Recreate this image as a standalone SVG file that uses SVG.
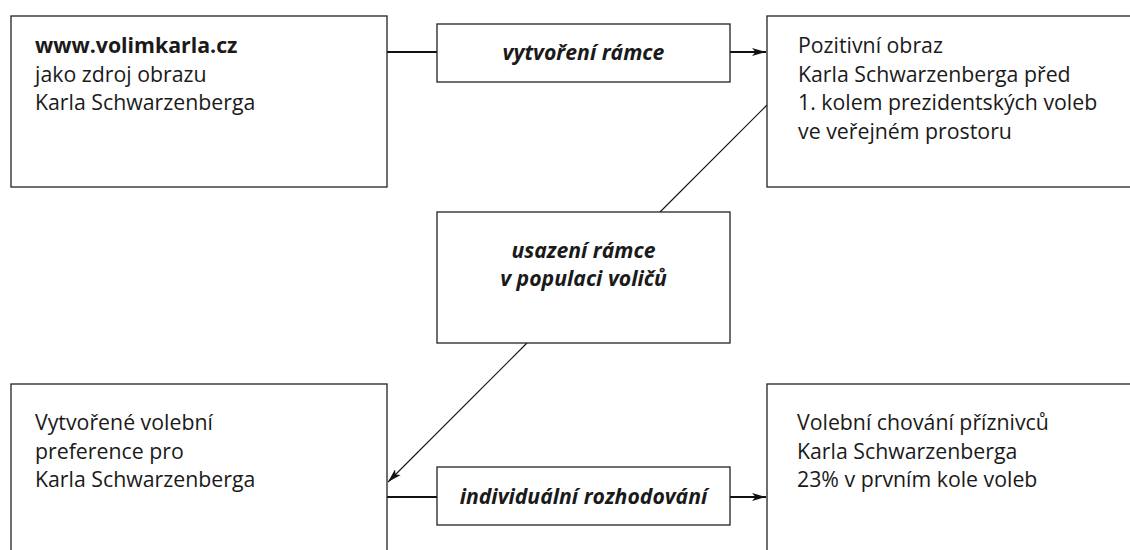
<svg xmlns="http://www.w3.org/2000/svg" width="1130" height="550" viewBox="0 0 1130 550">
<defs>
<style>
.box{fill:#fff;stroke:#222;stroke-width:1.3}
.t{font-family:"Open Sans","Liberation Sans",Arial,sans-serif;font-size:21.3px;fill:#1a1a1a}
.b{font-weight:bold}
.lbl{font-family:"Open Sans","Liberation Sans",Arial,sans-serif;font-size:21.2px;font-weight:bold;font-style:italic;fill:#1a1a1a;text-anchor:middle}
.conn{stroke:#111;stroke-width:2;fill:none}
.diag{stroke:#111;stroke-width:1.1;fill:none}
</style>
<marker id="arr" viewBox="0 0 14 9" refX="14" refY="4.5" markerWidth="14" markerHeight="9" markerUnits="userSpaceOnUse" orient="auto">
<path d="M0,0.5 L14,4.5 L0,8.5 L3.5,4.5 z" fill="#111"/>
</marker>
</defs>
<rect width="1130" height="550" fill="#fff"/>
<g id="connectors">
<line class="conn" x1="387" y1="52" x2="437" y2="52"/>
<line class="conn" x1="730" y1="52" x2="766" y2="52" marker-end="url(#arr)"/>
<line class="diag" x1="767" y1="105" x2="660" y2="212"/>
<line class="diag" x1="527" y1="343" x2="388" y2="482" marker-end="url(#arr)"/>
<line class="conn" x1="387" y1="497" x2="437" y2="497"/>
<line class="conn" x1="730" y1="497" x2="766" y2="497" marker-end="url(#arr)"/>
</g>
<g id="node-web">
<rect class="box" x="11" y="16" width="376" height="171"/>
<text class="t" x="35" y="53"><tspan class="b">www.volimkarla.cz</tspan><tspan x="35" y="81.5">jako zdroj obrazu</tspan><tspan x="35" y="110">Karla Schwarzenberga</tspan></text>
</g>
<g id="node-vytvoreni">
<rect class="box" x="437" y="24" width="293" height="58"/>
<text class="lbl" x="583.5" y="60">vytvoření rámce</text>
</g>
<g id="node-obraz">
<rect class="box" x="767" y="16" width="376" height="171"/>
<text class="t" x="798" y="53">Pozitivní obraz<tspan x="798" y="81.5">Karla Schwarzenberga před</tspan><tspan x="798" y="110">1. kolem prezidentských voleb</tspan><tspan x="798" y="138.5">ve veřejném prostoru</tspan></text>
</g>
<g id="node-usazeni">
<rect class="box" x="437" y="212" width="293" height="131"/>
<text class="lbl" x="583.5" y="258">usazení rámce<tspan x="583.5" y="286">v populaci voličů</tspan></text>
</g>
<g id="node-preference">
<rect class="box" x="11" y="384" width="376" height="180"/>
<text class="t" x="35" y="430">Vytvořené volební<tspan x="35" y="458.5">preference pro</tspan><tspan x="35" y="487">Karla Schwarzenberga</tspan></text>
</g>
<g id="node-rozhodovani">
<rect class="box" x="437" y="467" width="293" height="58"/>
<text class="lbl" x="583.5" y="504">individuální rozhodování</text>
</g>
<g id="node-chovani">
<rect class="box" x="767" y="384" width="376" height="180"/>
<text class="t" x="797" y="430">Volební chování příznivců<tspan x="797" y="458.5">Karla Schwarzenberga</tspan><tspan x="797" y="487">23% v prvním kole voleb</tspan></text>
</g>
</svg>
